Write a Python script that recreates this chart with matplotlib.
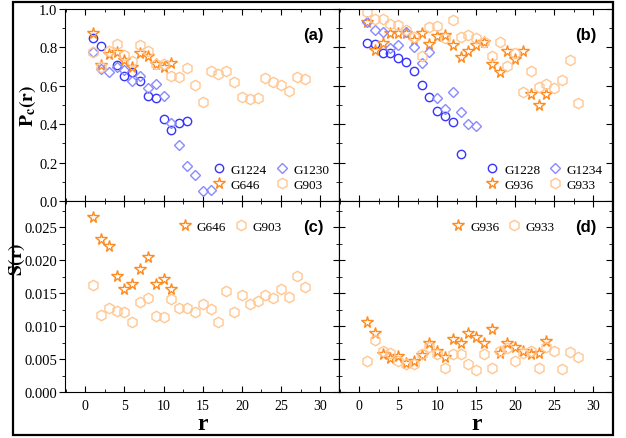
import numpy as np
import matplotlib
matplotlib.use("Agg")
import matplotlib.pyplot as plt
from matplotlib.ticker import MultipleLocator
from matplotlib.patches import Rectangle

# ---- data ----
r_G1224 = list(range(1, 14))
G1224 = [0.849, 0.809, None, 0.710, 0.653, 0.672, 0.625, 0.549, 0.538, 0.427, 0.370, 0.406, 0.417]
r_G1230 = list(range(1, 17))
G1230 = [0.774, 0.688, 0.670, 0.700, 0.684, 0.627, 0.649, 0.587, 0.608, 0.549, 0.406, 0.293, 0.180, 0.135, 0.054, 0.058]
r_G646 = list(range(1, 12))
G646 = [0.873, 0.710, 0.766, 0.774, 0.734, 0.700, 0.769, 0.757, 0.714, 0.696, 0.717]
r_G903 = list(range(1, 29))
G903 = [0.778, 0.700, 0.783, 0.818, 0.760, 0.731, 0.812, 0.783, 0.714, 0.714, 0.653, 0.644, 0.691, 0.604,
        0.514, 0.679, 0.661, 0.675, 0.618, 0.540, 0.531, 0.535, 0.639, 0.618, 0.604, 0.573, 0.648, 0.635]

r_G1228 = list(range(1, 14))
G1228 = [0.823, 0.820, 0.769, 0.771, 0.743, 0.724, 0.675, 0.604, 0.543, 0.469, 0.444, 0.413, 0.243]
r_G1234 = list(range(1, 16))
G1234 = [0.934, 0.892, 0.878, 0.797, 0.814, 0.880, 0.804, 0.719, 0.778, 0.536, 0.479, 0.569, 0.465, 0.401, 0.392]
r_G936 = list(range(1, 25))
G936 = [0.930, 0.786, 0.823, 0.873, 0.873, 0.873, 0.840, 0.873, 0.818, 0.858, 0.865, 0.814, 0.752, 0.783,
        0.814, 0.826, 0.714, 0.670, 0.783, 0.740, 0.780, 0.557, 0.502, 0.557]
r_G933 = list(range(1, 29))
G933 = [0.986, 0.948, 0.948, 0.922, 0.917, 0.892, 0.852, 0.757, 0.908, 0.913, 0.847, 0.944, 0.852, 0.866,
        0.849, 0.826, 0.757, 0.826, 0.701, 0.769, 0.566, 0.675, 0.595, 0.609, 0.589, 0.632, 0.736, 0.509]

S_G646 = [0.0266, 0.0233, 0.0222, 0.0176, 0.0157, 0.0164, 0.0187, 0.0205, 0.0164, 0.0172, 0.0156]
S_G903 = [0.0163, 0.0117, 0.0128, 0.0123, 0.0121, 0.0107, 0.0137, 0.0142, 0.0116, 0.0114, 0.0141, 0.0127,
          0.0128, 0.0121, 0.0134, 0.0126, 0.0107, 0.0153, 0.0122, 0.0147, 0.0134, 0.0138, 0.0147, 0.0143,
          0.0157, 0.0145, 0.0176, 0.0160]
S_G936 = [0.0107, 0.0089, 0.0058, 0.0052, 0.0054, 0.0044, 0.0047, 0.0056, 0.0074, 0.0063, 0.0053, 0.0081,
          0.0075, 0.0090, 0.0083, 0.0074, 0.0095, 0.0059, 0.0074, 0.0069, 0.0063, 0.0058, 0.0059, 0.0077]
S_G933 = [0.0047, 0.0079, 0.0063, 0.0059, 0.0047, 0.0042, 0.0043, 0.0058, 0.0068, 0.0058, 0.0037, 0.0058,
          0.0058, 0.0042, 0.0033, 0.0058, 0.0037, 0.0063, 0.0067, 0.0047, 0.0059, 0.0063, 0.0037, 0.0069,
          0.0063, 0.0035, 0.0061, 0.0053]

# ---- styles ----
BLUE = "#3535ff"
LBLUE = "#8a8aff"
ORANGE = "#ff8a1e"
PEACH = "#ffc792"
sty = {
    "circ": dict(marker="o", ms=6, mfc="none", mec=BLUE, mew=1.0, ls="none"),
    "diam": dict(marker="D", ms=5, mfc="none", mec=LBLUE, mew=1.0, ls="none"),
    "star": dict(marker="*", ms=8.5, mfc="none", mec=ORANGE, mew=1.0, ls="none"),
    "hexa": dict(marker="h", ms=7.5, mfc="none", mec=PEACH, mew=1.0, ls="none"),
}

plt.rcParams["font.family"] = ["Liberation Serif", "DejaVu Serif"]
plt.rcParams["mathtext.fontset"] = "stix"
plt.rcParams["font.size"] = 10

fig = plt.figure(figsize=(6.26, 4.39), dpi=100)
W, H = 626.0, 439.0


def make_ax(x0, x1, y0, y1):
    return fig.add_axes([x0 / W, 1 - y1 / H, (x1 - x0) / W, (y1 - y0) / H])


ax_a = make_ax(65, 339, 10, 202)
ax_b = make_ax(339, 612, 10, 202)
ax_c = make_ax(65, 339, 202, 393)
ax_d = make_ax(339, 612, 202, 393)


def clean(xs, ys):
    pts = [(x, y) for x, y in zip(xs, ys) if y is not None]
    return [p[0] for p in pts], [p[1] for p in pts]


def style_axes(ax, top, left):
    ax.set_xlim(-2.6, 32.4)
    if top:
        ax.set_ylim(0, 1.0)
        ax.yaxis.set_major_locator(MultipleLocator(0.2))
        ax.yaxis.set_minor_locator(MultipleLocator(0.1))
        ax.yaxis.set_major_formatter(plt.FormatStrFormatter("%.1f"))
    else:
        ax.set_ylim(0, 0.029)
        ax.yaxis.set_major_locator(MultipleLocator(0.005))
        ax.yaxis.set_minor_locator(MultipleLocator(0.0025))
        ax.yaxis.set_major_formatter(plt.FormatStrFormatter("%.3f"))
    ax.xaxis.set_major_locator(MultipleLocator(5))
    ax.xaxis.set_minor_locator(MultipleLocator(2.5))
    ax.tick_params(axis="x", which="both", direction="in", top=True, bottom=True,
                   labelbottom=not top, labelsize=10, pad=5)
    ax.tick_params(axis="x", which="major", length=4)
    ax.tick_params(axis="x", which="minor", length=2)
    if left:
        ax.tick_params(axis="y", which="both", direction="out", left=True, right=False,
                       labelsize=10.5, pad=1.5)
        ax.tick_params(axis="y", which="major", length=4)
        ax.tick_params(axis="y", which="minor", length=2)
        sec = ax.secondary_yaxis("right")
        sec.yaxis.set_major_locator(ax.yaxis.get_major_locator())
        sec.yaxis.set_minor_locator(ax.yaxis.get_minor_locator())
        sec.tick_params(axis="y", which="both", direction="in", labelright=False)
        sec.tick_params(axis="y", which="major", length=4)
        sec.tick_params(axis="y", which="minor", length=2)
        sec.spines["right"].set_linewidth(0.8)
    else:
        ax.tick_params(axis="y", which="both", direction="in", left=True, right=True,
                       labelleft=False)
        ax.tick_params(axis="y", which="major", length=4)
        ax.tick_params(axis="y", which="minor", length=2)
    for s in ax.spines.values():
        s.set_linewidth(0.8)


# (a)
ax_a.plot(*clean(r_G1224, G1224), label="G1224", **sty["circ"])
ax_a.plot(r_G646, G646, label="G646", **sty["star"])
ax_a.plot(r_G1230, G1230, label="G1230", **sty["diam"])
ax_a.plot(r_G903, G903, label="G903", **sty["hexa"])

# (b)
ax_b.plot(r_G1228, G1228, label="G1228", **sty["circ"])
ax_b.plot(r_G936, G936, label="G936", **sty["star"])
ax_b.plot(r_G1234, G1234, label="G1234", **sty["diam"])
ax_b.plot(r_G933, G933, label="G933", **sty["hexa"])

# (c)
ax_c.plot(range(1, len(S_G646) + 1), S_G646, label="G646", **sty["star"])
ax_c.plot(range(1, len(S_G903) + 1), S_G903, label="G903", **sty["hexa"])

# (d)
ax_d.plot(range(1, len(S_G936) + 1), S_G936, label="G936", **sty["star"])
ax_d.plot(range(1, len(S_G933) + 1), S_G933, label="G933", **sty["hexa"])

style_axes(ax_a, True, True)
style_axes(ax_b, True, False)
style_axes(ax_c, False, True)
style_axes(ax_d, False, False)

leg_kw = dict(frameon=False, fontsize=9.5, handlelength=0.8, handletextpad=0.5,
              columnspacing=0.7, labelspacing=0.2, borderpad=0.2, borderaxespad=0.0)
ax_a.legend(ncol=2, loc="lower right", bbox_to_anchor=(0.975, 0.04), **leg_kw)
ax_b.legend(ncol=2, loc="lower right", bbox_to_anchor=(0.975, 0.04), **leg_kw)
ax_c.legend(ncol=2, loc="center right", bbox_to_anchor=(0.80, 0.865), **leg_kw)
ax_d.legend(ncol=2, loc="center right", bbox_to_anchor=(0.80, 0.865), **leg_kw)

for ax, lab in [(ax_a, "(a)"), (ax_b, "(b)"), (ax_c, "(c)"), (ax_d, "(d)")]:
    ax.text(0.945, 0.865, lab, transform=ax.transAxes, ha="right", va="center",
            fontsize=12, fontweight="bold", family="Liberation Sans")

ax_a.set_ylabel(r"$\mathbf{P_c(r)}$", fontsize=14)
ax_a.yaxis.set_label_coords(-0.10, 0.5)
ax_c.set_ylabel(r"$\mathbf{S(r)}$", fontsize=14)
ax_c.yaxis.set_label_coords(-0.14, 0.70)

fig.text(203 / W, 1 - 425 / H, "r", ha="center", va="center", fontsize=17, fontweight="bold")
fig.text(477 / W, 1 - 425 / H, "r", ha="center", va="center", fontsize=17, fontweight="bold")

# outer frame
fig.patches.append(Rectangle((13 / W, 1 - 436 / H), 600 / W, 433 / H, transform=fig.transFigure,
                             fill=False, ec="black", lw=1.6))

fig.savefig("out.png", dpi=100)
